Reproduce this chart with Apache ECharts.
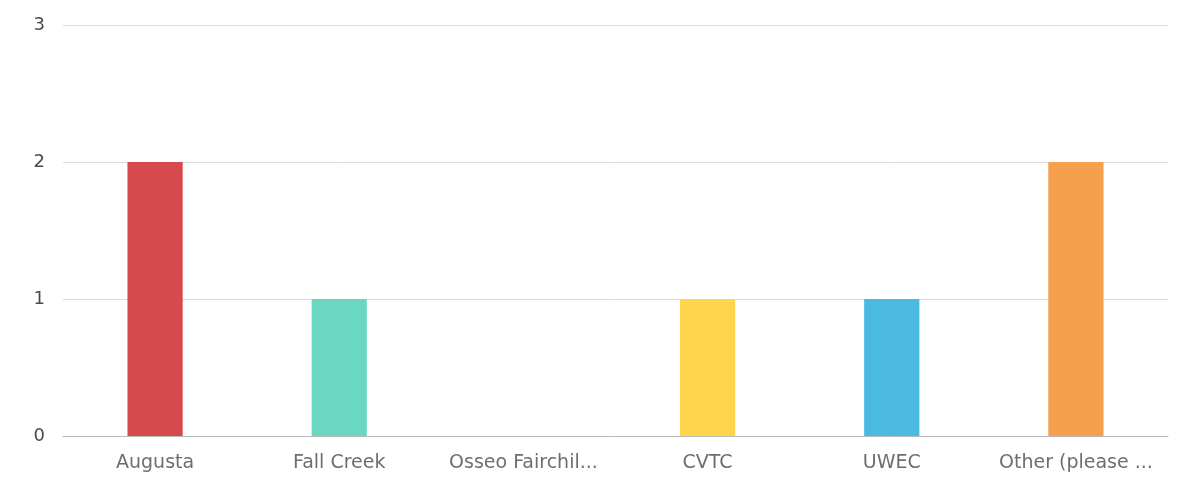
<!DOCTYPE html>
<html>
<head>
<meta charset="utf-8">
<script src="https://cdn.jsdelivr.net/npm/echarts@6/dist/echarts.min.js"></script>
<style>
html,body{margin:0;padding:0;background:#fff;}
#chart{width:1179px;height:491px;}
</style>
</head>
<body>
<div id="chart"></div>
<script>
var categories = ["Augusta", "Fall Creek", "Osseo Fairchil...", "CVTC", "UWEC", "Other (please ..."];
var values = [2, 1, 0, 1, 1, 2];
var colors = ["#D64A4D", "#6AD8C0", "#A7C636", "#FFD54D", "#4BBAE0", "#F4A04D"];
var yTicks = [0, 1, 2, 3];

var chart = echarts.init(document.getElementById('chart'));
chart.setOption({
  animation: false,
  grid: {left: 63, right: 11, top: 25, bottom: 55, containLabel: false},
  xAxis: {
    type: 'category',
    data: categories,
    axisLine: {lineStyle: {color: '#b8b8b8', width: 1}},
    axisTick: {alignWithLabel: true, length: 5, lineStyle: {color: '#666'}},
    axisLabel: {color: '#6e6e6e', fontSize: 19, fontFamily: '"DejaVu Sans", sans-serif', margin: 18, interval: 0}
  },
  yAxis: {
    type: 'value',
    min: yTicks[0],
    max: yTicks[yTicks.length - 1],
    interval: 1,
    axisLine: {show: false},
    axisTick: {show: false},
    axisLabel: {color: '#4a4a4a', fontSize: 18, fontFamily: '"DejaVu Sans", sans-serif', margin: 18},
    splitLine: {lineStyle: {color: '#dcdcdc', width: 1}}
  },
  series: [{
    type: 'bar',
    data: values.map(function (v, i) { return {value: v, itemStyle: {color: colors[i]}}; }),
    barWidth: '30%'
  }]
});
</script>
</body>
</html>
